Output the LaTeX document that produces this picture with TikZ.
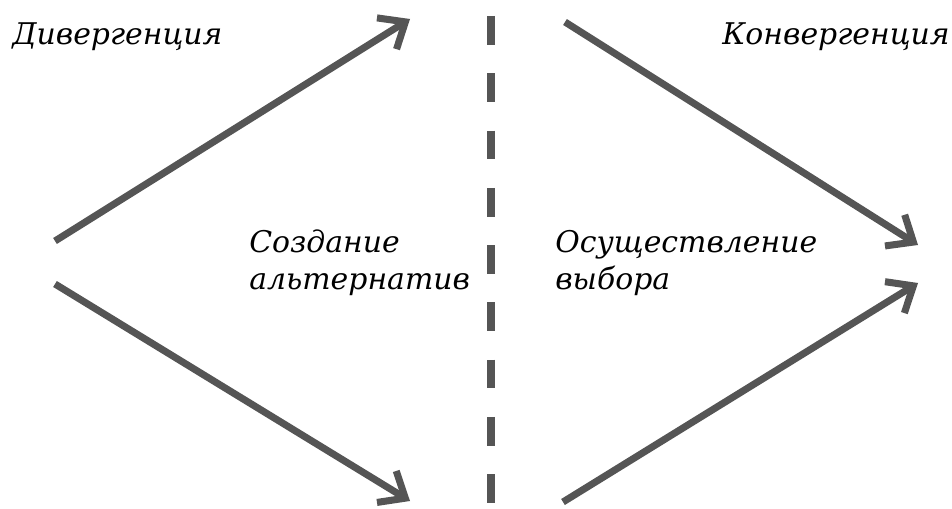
\documentclass[tikz,border=0pt]{standalone}
\usepackage{fontspec}
\setmainfont{DejaVu Serif}
\usetikzlibrary{arrows.meta}

\tikzset{
    bigarrow/.style={line width=4pt, color=arrowgray, -{Straight Barb[length=12.5pt, width=21pt, line width=4pt]}},
    label/.style={anchor=base west, inner sep=0pt, align=left, font=\fontsize{17}{21.5}\selectfont\itshape},
}
\definecolor{arrowgray}{HTML}{555555}

\begin{document}
\begin{tikzpicture}[x=0.02cm, y=-0.02cm]
    \useasboundingbox (0,0) rectangle (952,509);

    \coordinate (divA) at (55,241);
    \coordinate (divAend) at (410,19);
    \coordinate (divB) at (55,284);
    \coordinate (divBend) at (410,501);
    \coordinate (convA) at (565,22);
    \coordinate (convAend) at (918,245);
    \coordinate (convB) at (563,502);
    \coordinate (convBend) at (918,283);
    \coordinate (sepTop) at (491,16);
    \coordinate (sepBot) at (491,509);

    \draw[bigarrow] (divA) -- (divAend);
    \draw[bigarrow] (divB) -- (divBend);
    \draw[bigarrow] (convA) -- (convAend);
    \draw[bigarrow] (convB) -- (convBend);

    \draw[line width=4.5pt, color=arrowgray, dash pattern=on 16.4pt off 16.2pt] (sepTop) -- (sepBot);

    \node[label] (diverg) at (12,45) {Дивергенция};
    \node[label] (converg) at (722,45) {Конвергенция};
    \node[label] (create) at (249,290) {Создание\\альтернатив};
    \node[label] (choice) at (555,290) {Осуществление\\выбора};

\end{tikzpicture}
\end{document}
